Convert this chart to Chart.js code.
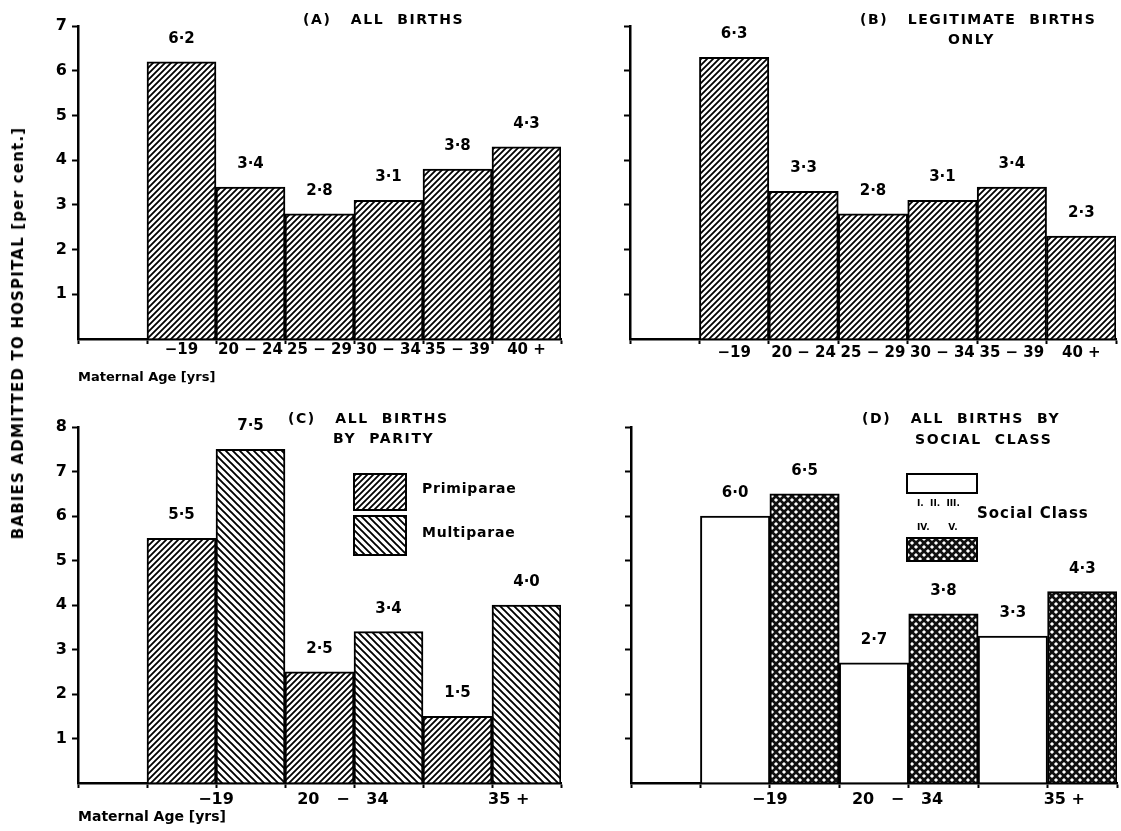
<!DOCTYPE html>
<html>
<head>
<meta charset="utf-8">
<script src="https://cdn.jsdelivr.net/npm/chart.js@4.4.1/dist/chart.umd.min.js"></script>
<style>
  body { margin: 0; background: #fff; }
  #fig { position: relative; width: 1121px; height: 831px; overflow: hidden; font-family: "DejaVu Sans", sans-serif; color: #000; }
  canvas { position: absolute; }
  .txt { position: absolute; font-weight: bold; white-space: pre; line-height: 1; transform: translateY(-50%); }
  .title { font-size: 14px; letter-spacing: 1.6px; }
  .box { position: absolute; border: 2.5px solid #000; box-sizing: border-box; background: #fff; }
  #ylab { position: absolute; left: 18px; top: 333px; transform: translate(-50%, -50%) rotate(-90deg);
          font-weight: bold; font-size: 15px; letter-spacing: 1.2px; white-space: nowrap; }
</style>
</head>
<body>
<div id="fig">
  <canvas id="chartA" width="570" height="400" style="left:0;top:0"></canvas>
  <canvas id="chartB" width="541" height="400" style="left:580px;top:0"></canvas>
  <canvas id="chartC" width="570" height="431" style="left:0;top:400px"></canvas>
  <canvas id="chartD" width="541" height="431" style="left:580px;top:400px"></canvas>

  <div id="ylab">BABIES ADMITTED TO HOSPITAL [per cent.]</div>

  <div class="txt title" style="left:303px;top:19px">(A)   ALL  BIRTHS</div>
  <div class="txt title" style="left:860px;top:19px">(B)   LEGITIMATE  BIRTHS</div>
  <div class="txt title" style="left:948px;top:39px">ONLY</div>
  <div class="txt title" style="left:288px;top:418px">(C)   ALL  BIRTHS</div>
  <div class="txt title" style="left:333px;top:438px">BY  PARITY</div>
  <div class="txt title" style="left:862px;top:418px">(D)   ALL  BIRTHS  BY</div>
  <div class="txt title" style="left:915px;top:439px">SOCIAL  CLASS</div>

  <!-- legend C -->
  <div class="box" id="swPrimi" style="left:353px;top:473px;width:54px;height:38px"></div>
  <div class="box" id="swMulti" style="left:353px;top:515px;width:54px;height:41px"></div>
  <div class="txt" style="left:422px;top:488px;font-size:14px;letter-spacing:0.8px">Primiparae</div>
  <div class="txt" style="left:422px;top:532px;font-size:14px;letter-spacing:0.8px">Multiparae</div>

  <!-- legend D -->
  <div class="box" id="swLow" style="left:906px;top:473px;width:72px;height:21px;border-width:2px"></div>
  <div class="txt" style="left:917px;top:503px;font-size:9px">I.  II.  III.</div>
  <div class="txt" style="left:977px;top:513px;font-size:15px;letter-spacing:1px">Social Class</div>
  <div class="txt" style="left:917px;top:527px;font-size:9px">IV.      V.</div>
  <div class="box" id="swHigh" style="left:906px;top:537px;width:72px;height:25px;border-width:2px"></div>
</div>

<script>
    // 数据
    const ageBands = ['−19', '20 − 24', '25 − 29', '30 − 34', '35 − 39', '40 +'];
    const allBirths = [6.2, 3.4, 2.8, 3.1, 3.8, 4.3];
    const legitimateBirths = [6.3, 3.3, 2.8, 3.1, 3.4, 2.3];

    const broadBands = ['−19', '20   −   34    ', '      35 +'];
    const primiparae = [5.5, 2.5, 1.5];
    const multiparae = [7.5, 3.4, 4.0];
    const socialClass123 = [6.0, 2.7, 3.3];
    const socialClass45 = [6.5, 3.8, 4.3];

    const FONT = '"DejaVu Sans", sans-serif';

    // 填充图案
    function hatchTile(size, dir, lw) {
        const c = document.createElement('canvas');
        c.width = c.height = size;
        const g = c.getContext('2d');
        g.fillStyle = '#fff';
        g.fillRect(0, 0, size, size);
        g.strokeStyle = '#000';
        g.lineWidth = lw;
        g.beginPath();
        if (dir > 0) { // "/"
            g.moveTo(-1, size + 1); g.lineTo(size + 1, -1);
            g.moveTo(-1, 1); g.lineTo(1, -1);
            g.moveTo(size - 1, size + 1); g.lineTo(size + 1, size - 1);
        } else { // "\"
            g.moveTo(-1, -1); g.lineTo(size + 1, size + 1);
            g.moveTo(size - 1, -1); g.lineTo(size + 1, 1);
            g.moveTo(-1, size - 1); g.lineTo(1, size + 1);
        }
        g.stroke();
        return c;
    }

    function dotTile(size, r) {
        const c = document.createElement('canvas');
        c.width = c.height = size;
        const g = c.getContext('2d');
        g.fillStyle = '#111';
        g.fillRect(0, 0, size, size);
        g.fillStyle = '#fff';
        const h = size / 2;
        [[0, 0], [size, 0], [0, size], [size, size], [h, h]].forEach(([x, y]) => {
            g.beginPath();
            g.moveTo(x, y - r); g.lineTo(x + r, y); g.lineTo(x, y + r); g.lineTo(x - r, y);
            g.closePath();
            g.fill();
        });
        return c;
    }

    const tilePrimi = hatchTile(6, 1, 1.8);
    const tileMulti = hatchTile(7, -1, 1.9);
    const tileDots = dotTile(8, 2.1);

    function pat(id, tile) {
        return document.getElementById(id).getContext('2d').createPattern(tile, 'repeat');
    }

    // 图例色块
    document.getElementById('swPrimi').style.backgroundImage = 'url(' + tilePrimi.toDataURL() + ')';
    document.getElementById('swMulti').style.backgroundImage = 'url(' + tileMulti.toDataURL() + ')';
    document.getElementById('swHigh').style.backgroundImage = 'url(' + tileDots.toDataURL() + ')';

    // 柱顶数值
    const valueLabels = {
        id: 'valueLabels',
        afterDatasetsDraw(chart) {
            const ctx = chart.ctx;
            ctx.save();
            ctx.font = 'bold 15px ' + FONT;
            ctx.fillStyle = '#000';
            ctx.textAlign = 'center';
            ctx.textBaseline = 'middle';
            chart.data.datasets.forEach((ds, di) => {
                chart.getDatasetMeta(di).data.forEach((bar, i) => {
                    const raw = ds.data[i];
                    const v = (raw && typeof raw === 'object') ? raw.y : raw;
                    if (v == null) return;
                    ctx.fillText(v.toFixed(1).replace('.', '·'), bar.x, bar.y - 23);
                });
            });
            ctx.restore();
        }
    };

    function yScale(max, yWidth, showLabels) {
        return {
            min: 0,
            max: max,
            afterFit: s => { s.width = yWidth; },
            afterBuildTicks: s => {
                s.ticks = [];
                for (let v = 0; v <= max; v++) s.ticks.push({ value: v });
            },
            ticks: {
                autoSkip: false,
                padding: 5,
                color: '#000',
                font: { family: FONT, size: 16, weight: 'bold' },
                callback: v => (showLabels && v > 0) ? String(v) : ''
            },
            grid: {
                drawOnChartArea: false,
                drawTicks: true,
                tickLength: 6,
                tickWidth: 2,
                tickColor: c => (c.tick && c.tick.value === 0) ? 'rgba(0,0,0,0)' : '#000'
            },
            border: { color: '#000', width: 2.5 }
        };
    }

    function xTitle(text, size) {
        if (!text) return { display: false };
        return { display: true, text: text, align: 'start', color: '#000', padding: 0,
                 font: { family: FONT, size: size, weight: 'bold' } };
    }

    function xCategory(xHeight, pad, title) {
        return {
            type: 'category',
            offset: true,
            afterFit: s => { s.height = xHeight; },
            grid: { offset: true, drawOnChartArea: false, drawTicks: true, tickLength: 5, tickWidth: 2, tickColor: '#000' },
            border: { color: '#000', width: 2.5 },
            ticks: { autoSkip: false, maxRotation: 0, padding: pad, color: '#000',
                     font: { family: FONT, size: 15, weight: 'bold' } },
            title: xTitle(title, 13)
        };
    }

    function xLinear(xHeight, pad, title) {
        return {
            type: 'linear',
            min: -0.5,
            max: 6.5,
            offset: false,
            afterFit: s => { s.height = xHeight; },
            afterBuildTicks: s => {
                s.ticks = [];
                for (let v = -0.5; v <= 6.5; v++) s.ticks.push({ value: v });
            },
            grid: { offset: false, drawOnChartArea: false, drawTicks: true, tickLength: 5, tickWidth: 2, tickColor: '#000' },
            border: { color: '#000', width: 2.5 },
            ticks: {
                autoSkip: false, maxRotation: 0, padding: pad, color: '#000',
                font: { family: FONT, size: 16, weight: 'bold' },
                callback: v => {
                    const k = (v - 1.5) / 2;
                    return (Number.isInteger(k) && broadBands[k]) ? broadBands[k] : '';
                }
            },
            title: xTitle(title, 14)
        };
    }

    const barStyle = {
        barPercentage: 1,
        categoryPercentage: 1,
        borderColor: '#000',
        borderWidth: 2
    };

    function commonOptions(padding, scales) {
        return {
            responsive: false,
            animation: false,
            layout: { padding: padding },
            plugins: { legend: { display: false }, tooltip: { enabled: false } },
            scales: scales
        };
    }

    // (A) 全部出生
    new Chart(document.getElementById('chartA'), {
        type: 'bar',
        data: {
            labels: [''].concat(ageBands),
            datasets: [Object.assign({ label: 'All births', data: [null].concat(allBirths),
                                       backgroundColor: pat('chartA', tilePrimi) }, barStyle)]
        },
        options: commonOptions({ left: 0, top: 26, right: 9, bottom: 15 },
            { x: xCategory(46, -3, 'Maternal Age [yrs]'), y: yScale(7, 78, true) }),
        plugins: [valueLabels]
    });

    // (B) 仅婚生
    new Chart(document.getElementById('chartB'), {
        type: 'bar',
        data: {
            labels: [''].concat(ageBands),
            datasets: [Object.assign({ label: 'Legitimate births only', data: [null].concat(legitimateBirths),
                                       backgroundColor: pat('chartB', tilePrimi) }, barStyle)]
        },
        options: commonOptions({ left: 0, top: 26, right: 5, bottom: 15 },
            { x: xCategory(46, 0, null), y: yScale(7, 50, false) }),
        plugins: [valueLabels]
    });

    // (C) 按胎次
    new Chart(document.getElementById('chartC'), {
        type: 'bar',
        data: {
            datasets: [
                Object.assign({ label: 'Primiparae', grouped: false,
                                data: primiparae.map((v, i) => ({ x: 1 + 2 * i, y: v })),
                                backgroundColor: pat('chartC', tilePrimi) }, barStyle),
                Object.assign({ label: 'Multiparae', grouped: false,
                                data: multiparae.map((v, i) => ({ x: 2 + 2 * i, y: v })),
                                backgroundColor: pat('chartC', tileMulti) }, barStyle)
            ]
        },
        options: commonOptions({ left: 0, top: 27, right: 9, bottom: 5 },
            { x: xLinear(43, 2, 'Maternal Age [yrs]'), y: yScale(8, 78, true) }),
        plugins: [valueLabels]
    });

    // (D) 按社会阶层
    new Chart(document.getElementById('chartD'), {
        type: 'bar',
        data: {
            datasets: [
                Object.assign({ label: 'I. II. III.', grouped: false,
                                data: socialClass123.map((v, i) => ({ x: 1 + 2 * i, y: v })),
                                backgroundColor: '#fff' }, barStyle),
                Object.assign({ label: 'IV. V.', grouped: false,
                                data: socialClass45.map((v, i) => ({ x: 2 + 2 * i, y: v })),
                                backgroundColor: pat('chartD', tileDots) }, barStyle)
            ]
        },
        options: commonOptions({ left: 0, top: 27, right: 4, bottom: 5 },
            { x: xLinear(43, 2, null), y: yScale(8, 51, false) }),
        plugins: [valueLabels]
    });
</script>
</body>
</html>
